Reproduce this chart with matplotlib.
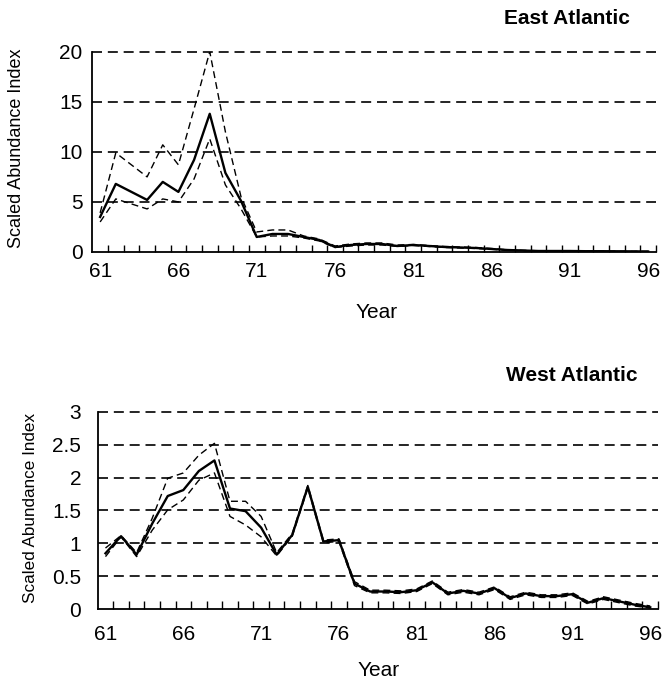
import numpy as np
import matplotlib
matplotlib.use("Agg")
import matplotlib.pyplot as plt

plt.rcParams['font.family'] = ['Liberation Sans', 'DejaVu Sans']

years = list(range(61, 97))
year_labels = ['61', '66', '71', '76', '81', '86', '91', '96']

# East Atlantic: index with upper / lower bounds
east_index = [3.5, 6.8, 6.0, 5.2, 7.0, 6.0, 9.2, 13.8, 7.9, 5.1, 1.5, 1.8,
              1.8, 1.5, 1.2, 0.5, 0.7, 0.8, 0.8, 0.6, 0.7, 0.6, 0.5, 0.45,
              0.4, 0.3, 0.2, 0.15, 0.1, 0.1, 0.1, 0.08, 0.08, 0.07, 0.06, 0.05]
east_upper = [3.9, 9.9, 8.7, 7.5, 10.7, 8.7, 14.3, 20.0, 12.0, 5.5, 2.0, 2.2,
              2.2, 1.6, 1.3, 0.6, 0.8, 0.9, 0.9, 0.7, 0.75, 0.65, 0.55, 0.5,
              0.45, 0.35, 0.22, 0.17, 0.12, 0.11, 0.11, 0.09, 0.09, 0.08, 0.07, 0.06]
east_lower = [3.0, 5.3, 4.8, 4.3, 5.3, 5.0, 7.3, 11.3, 6.7, 4.3, 1.5, 1.6,
              1.6, 1.4, 1.1, 0.45, 0.6, 0.7, 0.7, 0.55, 0.65, 0.55, 0.45, 0.4,
              0.35, 0.27, 0.18, 0.13, 0.09, 0.09, 0.09, 0.07, 0.07, 0.06, 0.05, 0.04]

# West Atlantic
west_index = [0.85, 1.11, 0.83, 1.30, 1.72, 1.81, 2.10, 2.26, 1.53, 1.49, 1.24, 0.83,
              1.13, 1.86, 1.03, 1.05, 0.39, 0.27, 0.27, 0.26, 0.29, 0.41, 0.24, 0.28,
              0.24, 0.32, 0.17, 0.24, 0.20, 0.20, 0.23, 0.10, 0.17, 0.12, 0.07, 0.03]
west_upper = [0.93, 1.12, 0.86, 1.38, 1.99, 2.07, 2.34, 2.52, 1.64, 1.64, 1.41, 0.86,
              1.15, 1.88, 1.05, 1.07, 0.42, 0.29, 0.29, 0.28, 0.31, 0.43, 0.26, 0.30,
              0.26, 0.34, 0.19, 0.26, 0.22, 0.22, 0.25, 0.12, 0.19, 0.14, 0.09, 0.05]
west_lower = [0.80, 1.10, 0.80, 1.20, 1.51, 1.66, 1.96, 2.07, 1.41, 1.28, 1.10, 0.81,
              1.11, 1.84, 1.01, 1.03, 0.36, 0.25, 0.25, 0.24, 0.27, 0.39, 0.22, 0.26,
              0.22, 0.30, 0.15, 0.22, 0.18, 0.18, 0.21, 0.08, 0.15, 0.10, 0.05, 0.02]

east_yticks = [0, 5, 10, 15, 20]
west_yticks = [0, 0.5, 1, 1.5, 2, 2.5, 3]
west_ylabels = ['0', '0.5', '1', '1.5', '2', '2.5', '3']

W, H = 666, 696
fig = plt.figure(figsize=(W / 100, H / 100), dpi=100)

def px_axes(left, right, top, bottom):
    return fig.add_axes([left / W, 1 - bottom / H, (right - left) / W, (bottom - top) / H])

ax1 = px_axes(92.3, 656, 51.7, 252)
ax2 = px_axes(97.7, 658, 411.7, 609.3)

dash = (0, (6, 3.5))

def draw_panel(ax, idx, up, lo, yticks, ylabels, ytop, ylab_size, ypad, xpad, tick_len):
    ax.plot(years, up, color='black', lw=1.0, ls=(0, (5, 3)))
    ax.plot(years, lo, color='black', lw=1.0, ls=(0, (5, 3)))
    ax.plot(years, idx, color='black', lw=1.7)
    for v in yticks[1:]:
        ax.axhline(v, color='black', lw=1.2, ls=dash, clip_on=False, zorder=0)
    ax.set_xlim(60.5, 96.5)
    ax.set_ylim(0, ytop)
    ax.set_yticks(yticks)
    ax.set_yticklabels(ylabels)
    ax.set_xticks([int(s) for s in year_labels])
    ax.set_xticklabels(year_labels)
    ax.set_xticks(np.arange(61.5, 97, 1), minor=True)
    ax.tick_params(axis='x', which='major', length=0, pad=xpad, labelsize=15)
    ax.tick_params(axis='x', which='minor', direction='in', length=tick_len, width=1.0)
    ax.tick_params(axis='y', length=0, pad=ypad, labelsize=15)
    for s in ['top', 'right']:
        ax.spines[s].set_visible(False)
    for s in ['left', 'bottom']:
        ax.spines[s].set_linewidth(1.3)
    ax.set_ylabel('Scaled Abundance Index', fontsize=ylab_size)
    ax.patch.set_alpha(0)

draw_panel(ax1, east_index, east_upper, east_lower, east_yticks,
           [str(v) for v in east_yticks], 20, 13, 7, 7, 5)
ax1.yaxis.set_label_coords(-0.119, 0.52)

draw_panel(ax2, west_index, west_upper, west_lower, west_yticks,
           west_ylabels, 3, 12.3, 12, 11, 6)
ax2.yaxis.set_label_coords(-0.107, 0.515)

fig.text(566.5 / W, 1 - 19 / H, 'East Atlantic', ha='center', va='center',
         fontsize=15, fontweight='bold')
fig.text(572 / W, 1 - 375 / H, 'West Atlantic', ha='center', va='center',
         fontsize=15, fontweight='bold')
fig.text(377 / W, 1 - 312 / H, 'Year', ha='center', va='center', fontsize=15)
fig.text(379 / W, 1 - 670 / H, 'Year', ha='center', va='center', fontsize=15)

fig.savefig('out.png', dpi=100)
